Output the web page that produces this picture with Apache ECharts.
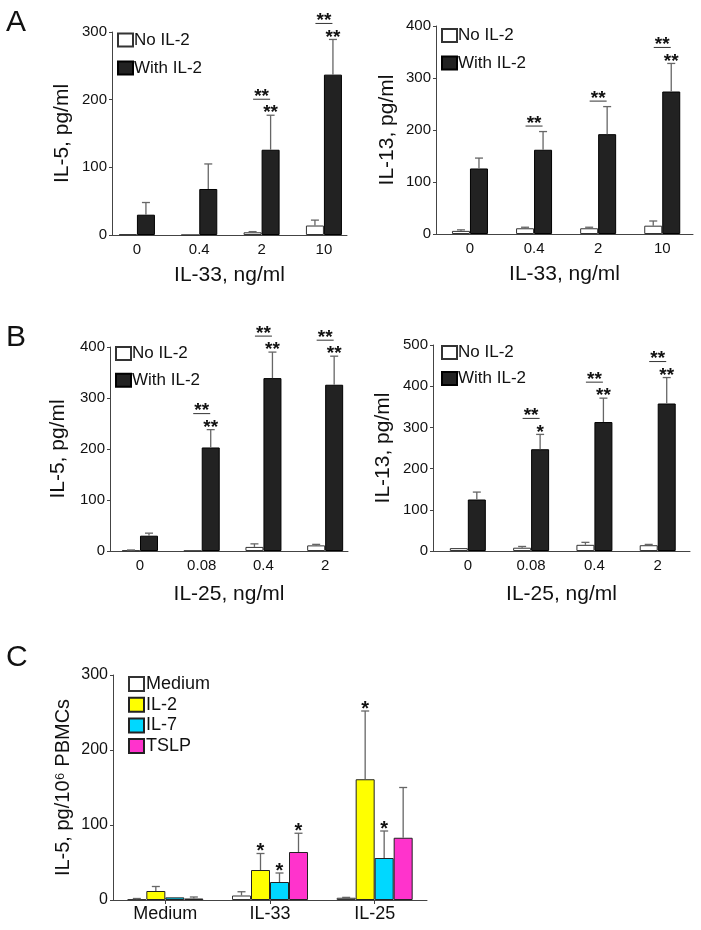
<!DOCTYPE html>
<html><head><meta charset="utf-8">
<script src="https://cdn.jsdelivr.net/npm/echarts@6/dist/echarts.min.js"></script>
<style>html,body{margin:0;padding:0;background:#fff}#c{width:701px;height:930px}</style>
</head><body><div id="c"></div>
<script>
// ---------- data ----------
const catIL33 = ['0', '0.4', '2', '10'];
const catIL25 = ['0', '0.08', '0.4', '2'];
const catC = ['Medium', 'IL-33', 'IL-25'];

// A left: IL-5 vs IL-33
const a1No = [1, 0, 4, 14];
const a1NoErr = [0, 0, 1, 8];
const a1With = [30, 68, 126, 237];
const a1WithErr = [18, 37, 51, 52];
const a1Pair = [0, 0, 1, 1];
const a1Star = ['', '', '**', '**'];

// A right: IL-13 vs IL-33
const a2No = [6, 11, 11, 16];
const a2NoErr = [2, 2, 2, 9];
const a2With = [126, 162, 192, 274];
const a2WithErr = [20, 35, 53, 54];
const a2Pair = [0, 1, 1, 1];
const a2Star = ['', '', '', '**'];

// B left: IL-5 vs IL-25
const b1No = [1, 0.5, 8, 11];
const b1NoErr = [1, 0, 6, 2];
const b1With = [30, 203, 339, 326];
const b1WithErr = [5, 35, 51, 56];
const b1Pair = [0, 1, 1, 1];
const b1Star = ['', '**', '**', '**'];

// B right: IL-13 vs IL-25
const b2No = [7, 8, 15, 14];
const b2NoErr = [0, 3, 6, 2];
const b2With = [125, 247, 313, 358];
const b2WithErr = [18, 36, 58, 63];
const b2Pair = [0, 1, 1, 1];
const b2Star = ['', '*', '**', '**'];

// C
const cMedium = [1, 6, 3];
const cMediumErr = [1, 5, 0.5];
const cIL2 = [12, 40, 161];
const cIL2Err = [6, 22, 91];
const cIL7 = [3.5, 24, 56];
const cIL7Err = [0, 12, 36];
const cTSLP = [2, 64, 83];
const cTSLPErr = [2, 25, 67];
const cStarIL2 = ['', '*', '*'];
const cStarIL7 = ['', '*', '*'];
const cStarTSLP = ['', '*', ''];

// ---------- chart ----------
const FONT = 'Liberation Sans, Arial, Helvetica, sans-serif';
const BW = 18;      // bar width A/B
const BWC = 19;     // bar width C
const ERRC = '#666';
const BLACK = '#222';
const STAR_FONT = 'bold 19px ' + FONT;
const STAR_OFF = 5.5; // distance from text top to asterisk glyph centre

function errRender(offset) {
  return function (params, api) {
    const x = api.value(0), v = api.value(1), e = api.value(2);
    if (!e) return null;
    const p0 = api.coord([x, v]), p1 = api.coord([x, v + e]);
    const cx = p0[0] + offset;
    return {
      type: 'group', children: [
        { type: 'line', shape: { x1: cx, y1: p0[1], x2: cx, y2: p1[1] }, style: { stroke: ERRC, lineWidth: 1.3 } },
        { type: 'line', shape: { x1: cx - 4, y1: p1[1], x2: cx + 4, y2: p1[1] }, style: { stroke: ERRC, lineWidth: 1.3 } }
      ]
    };
  };
}
function sigRender(params, api) {
  const x = api.value(0), top = api.value(1), pair = api.value(2);
  const star = sigStars[params.seriesIndex][params.dataIndex];
  const p = api.coord([x, top]);
  const children = [];
  let lineY;
  if (star) {
    children.push({ type: 'text', style: { text: star, x: p[0] + BW / 2, y: p[1] - 6 - STAR_OFF, align: 'center', verticalAlign: 'top', font: STAR_FONT, fill: '#111' } });
    lineY = p[1] - 16;
  } else {
    lineY = p[1] - 5.5;
  }
  if (pair) {
    children.push({ type: 'line', shape: { x1: p[0] - 8.5, y1: lineY, x2: p[0] + 8.5, y2: lineY }, style: { stroke: '#333', lineWidth: 1 } });
    children.push({ type: 'text', style: { text: '**', x: p[0], y: lineY - 6.5 - STAR_OFF, align: 'center', verticalAlign: 'top', font: STAR_FONT, fill: '#111' } });
  }
  return { type: 'group', children };
}
function starRender(offset) {
  return function (params, api) {
    const s = sigStars[params.seriesIndex][params.dataIndex];
    if (!s) return null;
    const p = api.coord([api.value(0), api.value(1)]);
    return { type: 'text', style: { text: s, x: p[0] + offset, y: p[1] - 5 - 7, align: 'center', verticalAlign: 'top', font: 'bold 20px ' + FONT, fill: '#111' } };
  };
}
const sigStars = {};

const panels = [
  { grid: { left: 112, top: 32, width: 235, height: 203 }, min: -0.40, max: 3.37, ymax: 300, cats: catIL33, yName: 'IL-5, pg/ml', xName: 'IL-33, ng/ml', yGap: 39, xGap: 30,
    no: a1No, noErr: a1NoErr, w: a1With, wErr: a1WithErr, pair: a1Pair, star: a1Star, legend: { left: 117, top: 31.5, itemGap: 11 } },
  { grid: { left: 436, top: 26, width: 257, height: 208 }, min: -0.53, max: 3.48, ymax: 400, cats: catIL33, yName: 'IL-13, pg/ml', xName: 'IL-33, ng/ml', yGap: 38, xGap: 30,
    no: a2No, noErr: a2NoErr, w: a2With, wErr: a2WithErr, pair: a2Pair, star: a2Star, legend: { left: 441, top: 27, itemGap: 10.5 } },
  { grid: { left: 110, top: 347, width: 238, height: 204 }, min: -0.486, max: 3.37, ymax: 400, cats: catIL25, yName: 'IL-5, pg/ml', xName: 'IL-25, ng/ml', yGap: 41, xGap: 33,
    no: b1No, noErr: b1NoErr, w: b1With, wErr: b1WithErr, pair: b1Pair, star: b1Star, legend: { left: 115, top: 345, itemGap: 9.7 } },
  { grid: { left: 433, top: 345, width: 257, height: 206 }, min: -0.55, max: 3.51, ymax: 500, cats: catIL25, yName: 'IL-13, pg/ml', xName: 'IL-25, ng/ml', yGap: 39, xGap: 33,
    no: b2No, noErr: b2NoErr, w: b2With, wErr: b2WithErr, pair: b2Pair, star: b2Star, legend: { left: 441, top: 344, itemGap: 9 } }
];

const option = { backgroundColor: '#fff', animation: false, textStyle: { fontFamily: FONT }, grid: [], xAxis: [], yAxis: [], series: [], legend: [], graphic: [] };

const axisLineStyle = { color: '#444', width: 1 };
panels.forEach((P, i) => {
  option.grid.push(P.grid);
  option.xAxis.push({
    type: 'value', gridIndex: i, min: P.min, max: P.max,
    axisLine: { show: true, onZero: false, lineStyle: axisLineStyle }, axisTick: { show: false }, splitLine: { show: false },
    axisLabel: { customValues: [0, 1, 2, 3], formatter: v => P.cats[Math.round(v)], fontSize: 15, color: '#111', margin: 7 },
    name: P.xName, nameLocation: 'middle', nameGap: P.xGap, nameTextStyle: { fontSize: 21, color: '#111' }
  });
  option.yAxis.push({
    type: 'value', gridIndex: i, min: 0, max: P.ymax, interval: 100,
    axisLine: { show: true, onZero: false, lineStyle: axisLineStyle }, axisTick: { show: true, length: 3, lineStyle: axisLineStyle }, splitLine: { show: false },
    axisLabel: { fontSize: 15, color: '#111', margin: 5 },
    name: P.yName, nameLocation: 'middle', nameGap: P.yGap, nameTextStyle: { fontSize: 21, color: '#111' }
  });
  const idx = [0, 1, 2, 3];
  option.series.push({ type: 'bar', name: 'No IL-2', xAxisIndex: i, yAxisIndex: i, barWidth: BW, barGap: '0%', data: idx.map(k => [k, P.no[k]]), itemStyle: { color: '#fff', borderColor: '#333', borderWidth: 1 } });
  option.series.push({ type: 'bar', name: 'With IL-2', xAxisIndex: i, yAxisIndex: i, barWidth: BW, barGap: '0%', data: idx.map(k => [k, P.w[k]]), itemStyle: { color: BLACK, borderColor: '#000', borderWidth: 1 } });
  option.series.push({ type: 'custom', xAxisIndex: i, yAxisIndex: i, renderItem: errRender(-BW / 2), data: idx.map(k => [k, P.no[k], P.noErr[k]]), z: 3 });
  option.series.push({ type: 'custom', xAxisIndex: i, yAxisIndex: i, renderItem: errRender(BW / 2), data: idx.map(k => [k, P.w[k], P.wErr[k]]), z: 3 });
  sigStars[option.series.length] = P.star;
  option.series.push({ type: 'custom', xAxisIndex: i, yAxisIndex: i, renderItem: sigRender, data: idx.map(k => [k, P.w[k] + P.wErr[k], P.pair[k]]), z: 4 });
  option.legend.push({ data: ['No IL-2', 'With IL-2'], orient: 'vertical', left: P.legend.left, top: P.legend.top, itemGap: P.legend.itemGap, padding: 0,
    icon: 'rect', itemWidth: 15, itemHeight: 13, textStyle: { fontSize: 17, color: '#111', padding: [0, 0, 0, -4] }, selectedMode: false });
});

// Panel C
option.grid.push({ left: 113, top: 675, width: 314, height: 225 });
option.xAxis.push({ type: 'category', gridIndex: 4, data: catC,
  axisLine: { show: true, lineStyle: axisLineStyle }, axisTick: { show: true, alignWithLabel: true, length: 4, lineStyle: axisLineStyle },
  axisLabel: { fontSize: 18, color: '#111', margin: 5 } });
option.yAxis.push({ type: 'value', gridIndex: 4, min: 0, max: 300, interval: 100,
  axisLine: { show: true, onZero: false, lineStyle: axisLineStyle }, axisTick: { show: true, length: 3, lineStyle: axisLineStyle }, splitLine: { show: false },
  axisLabel: { fontSize: 16, color: '#111', margin: 5 },
  name: 'IL-5, pg/10⁶ PBMCs', nameLocation: 'middle', nameGap: 40, nameTextStyle: { fontSize: 20, color: '#111' } });
const cSeries = [
  { name: 'Medium', v: cMedium, e: cMediumErr, color: '#fff', border: '#333', star: null },
  { name: 'IL-2', v: cIL2, e: cIL2Err, color: '#FFFF00', border: '#222', star: cStarIL2 },
  { name: 'IL-7', v: cIL7, e: cIL7Err, color: '#00D8FF', border: '#222', star: cStarIL7 },
  { name: 'TSLP', v: cTSLP, e: cTSLPErr, color: '#FF33CC', border: '#222', star: cStarTSLP }
];
cSeries.forEach((s) => {
  option.series.push({ type: 'bar', name: s.name, xAxisIndex: 4, yAxisIndex: 4, barWidth: BWC, barGap: '0%', data: s.v, itemStyle: { color: s.color, borderColor: s.border, borderWidth: 1 } });
});
cSeries.forEach((s, j) => {
  const off = (j - 1.5) * BWC;
  option.series.push({ type: 'custom', xAxisIndex: 4, yAxisIndex: 4, renderItem: errRender(off), data: s.v.map((v, k) => [k, v, s.e[k]]), z: 3 });
  if (s.star) {
    sigStars[option.series.length] = s.star;
    option.series.push({ type: 'custom', xAxisIndex: 4, yAxisIndex: 4, renderItem: starRender(off), data: s.v.map((v, k) => [k, v + s.e[k]]), z: 4 });
  }
});
option.legend.push({ data: cSeries.map(s => s.name), orient: 'vertical', left: 128, top: 675, itemGap: 2.7, padding: 0,
  icon: 'rect', itemWidth: 15, itemHeight: 14, textStyle: { fontSize: 18, color: '#111', padding: [0, 0, 0, -3] }, selectedMode: false });

// panel letters
[['A', 6, 8], ['B', 6, 323], ['C', 6, 643]].forEach(([t, x, y]) => {
  option.graphic.push({ type: 'text', left: x, top: y, style: { text: t, font: '30px ' + FONT, fill: '#111' } });
});

const chart = echarts.init(document.getElementById('c'), null, { renderer: 'canvas' });
chart.setOption(option);
</script></body></html>
